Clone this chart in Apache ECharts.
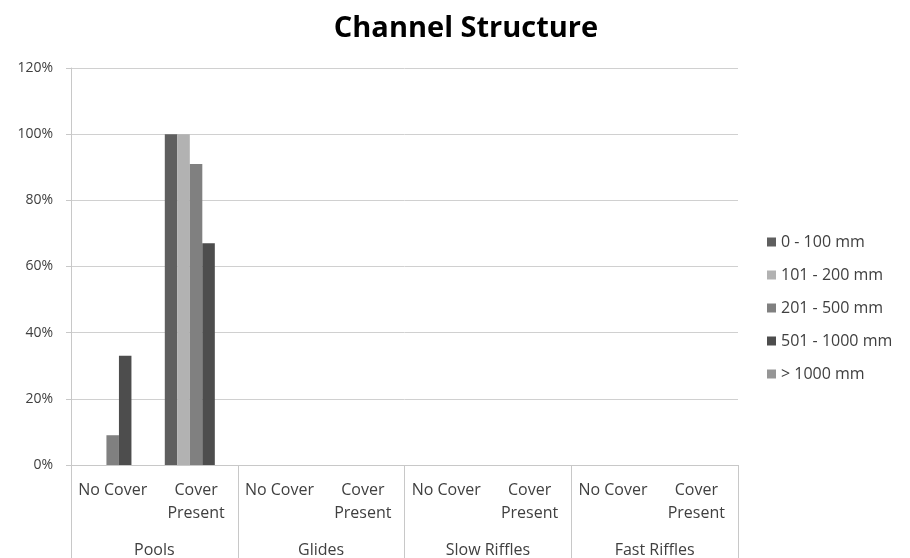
<!DOCTYPE html>
<html>
<head>
<meta charset="utf-8">
<script src="https://cdn.jsdelivr.net/npm/echarts@6/dist/echarts.min.js"></script>
<style>
  html, body { margin: 0; padding: 0; background: #ffffff; }
  #chart { width: 910px; height: 558px; }
</style>
</head>
<body>
<div id="chart"></div>
<script>
// Sub-categories along the x axis, and the habitat groups beneath them
const subCategories = ['No Cover', 'Cover\nPresent', 'No Cover', 'Cover\nPresent',
                       'No Cover', 'Cover\nPresent', 'No Cover', 'Cover\nPresent'];
const groups = ['Pools', 'Glides', 'Slow Riffles', 'Fast Riffles'];

// Share of sites by depth class (fraction of 1)
const seriesNames = ['0 - 100 mm', '101 - 200 mm', '201 - 500 mm', '501 - 1000 mm', '> 1000 mm'];
const depth0to100    = [0, 1.00, 0, 0, 0, 0, 0, 0];
const depth101to200  = [0, 1.00, 0, 0, 0, 0, 0, 0];
const depth201to500  = [0.09, 0.91, 0, 0, 0, 0, 0, 0];
const depth501to1000 = [0.33, 0.67, 0, 0, 0, 0, 0, 0];
const depthOver1000  = [0, 0, 0, 0, 0, 0, 0, 0];

const yTicks = { min: 0, max: 1.2, interval: 0.2 };
const colors = ['#5f5f5f', '#b2b2b2', '#808080', '#4d4d4d', '#969696'];
const allValues = [depth0to100, depth101to200, depth201to500, depth501to1000, depthOver1000];

const textColor = '#404040';
const fontFamily = 'Open Sans, sans-serif';

const chart = echarts.init(document.getElementById('chart'));
chart.setOption({
  animation: false,
  color: colors,
  title: {
    text: 'Channel Structure',
    left: 461, top: 9, textAlign: 'center',
    textStyle: { fontFamily: fontFamily, fontWeight: 'bold', fontSize: 29, color: '#000' }
  },
  legend: {
    orient: 'vertical',
    left: 767, top: 234, padding: 0,
    itemWidth: 9, itemHeight: 9, itemGap: 17,
    icon: 'rect',
    data: seriesNames,
    textStyle: { fontFamily: fontFamily, fontSize: 16, lineHeight: 16, color: textColor }
  },
  grid: { left: 71, right: 172, top: 68, bottom: 93, containLabel: false },
  xAxis: [
    {
      type: 'category',
      data: subCategories,
      axisLine: { lineStyle: { color: '#c8c8c8' } },
      axisTick: { show: false },
      axisLabel: { interval: 0, margin: 14, fontFamily: fontFamily, fontSize: 16, color: textColor, lineHeight: 23 }
    },
    {
      type: 'category',
      data: groups,
      position: 'bottom',
      axisLine: { show: false },
      axisTick: { show: true, length: 93, lineStyle: { color: '#c8c8c8' } },
      axisLabel: { interval: 0, margin: 77, fontFamily: fontFamily, fontSize: 16, color: textColor }
    }
  ],
  yAxis: {
    type: 'value',
    min: yTicks.min, max: yTicks.max, interval: yTicks.interval,
    axisLine: { show: true, lineStyle: { color: '#c8c8c8' } },
    axisTick: { show: true, length: 5, lineStyle: { color: '#c8c8c8' } },
    splitLine: { lineStyle: { color: '#d0d0d0' } },
    axisLabel: {
      margin: 18, fontFamily: fontFamily, fontSize: 14, color: textColor,
      formatter: v => Math.round(v * 100) + '%'
    }
  },
  series: seriesNames.map((name, i) => ({
    name: name,
    type: 'bar',
    data: allValues[i],
    barGap: '0%',
    barCategoryGap: '25%',
    itemStyle: { color: colors[i] }
  }))
});
</script>
</body>
</html>
